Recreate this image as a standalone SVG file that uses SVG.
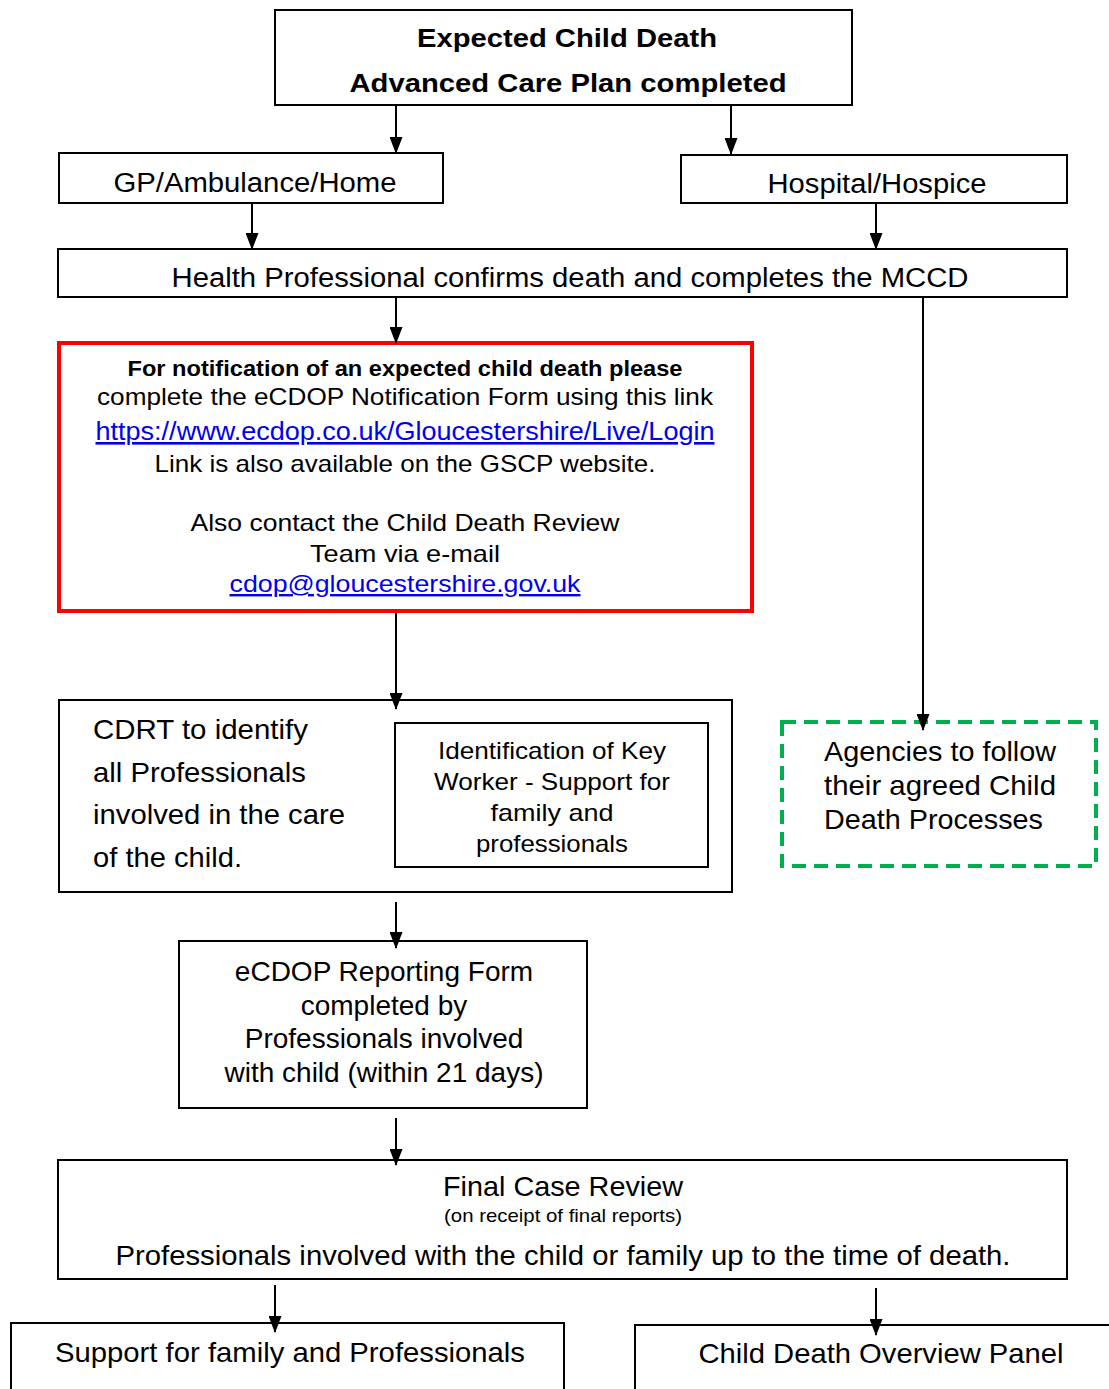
<svg xmlns="http://www.w3.org/2000/svg" width="1109" height="1389" viewBox="0 0 1109 1389">
<style>
.box{fill:#fff;stroke:#000;stroke-width:2}
.t{font-family:"Liberation Sans",Arial,sans-serif;fill:#000}
.c{text-anchor:middle}
.b{font-weight:bold}
.link{fill:#0000EE;text-decoration:underline}
.con{stroke:#000;stroke-width:2;fill:none}
</style>
<defs>
<marker id="a" markerWidth="17" markerHeight="13" refX="16" refY="6.5" orient="auto" markerUnits="userSpaceOnUse">
<path d="M0,0 L17,6.5 L0,13 Z" fill="#000"/>
</marker>
</defs>
<rect width="1109" height="1389" fill="#fff"/>

<g id="top">
<rect class="box" x="275" y="10" width="577" height="95"/>
<text class="t c b" x="567" y="47" font-size="26" textLength="300" lengthAdjust="spacingAndGlyphs">Expected Child Death</text>
<text class="t c b" x="568" y="92" font-size="26" textLength="437" lengthAdjust="spacingAndGlyphs">Advanced Care Plan completed</text>
</g>

<g id="gp">
<rect class="box" x="59" y="153" width="384" height="50"/>
<text class="t c" x="255" y="192" font-size="27" textLength="283" lengthAdjust="spacingAndGlyphs">GP/Ambulance/Home</text>
</g>

<g id="hospital">
<rect class="box" x="681" y="155" width="386" height="48"/>
<text class="t c" x="877" y="193" font-size="27" textLength="219" lengthAdjust="spacingAndGlyphs">Hospital/Hospice</text>
</g>

<g id="health">
<rect class="box" x="58" y="249" width="1009" height="48"/>
<text class="t c" x="570" y="287" font-size="27" textLength="797" lengthAdjust="spacingAndGlyphs">Health Professional confirms death and completes the MCCD</text>
</g>

<g id="notify">
<rect x="59" y="343" width="693" height="268" fill="#fff" stroke="#FF0000" stroke-width="4"/>
<text class="t c b" x="405" y="376" font-size="22" textLength="555" lengthAdjust="spacingAndGlyphs">For notification of an expected child death please</text>
<text class="t c" x="405" y="405" font-size="24" textLength="616" lengthAdjust="spacingAndGlyphs">complete the eCDOP Notification  Form using this link</text>
<text class="t c link" x="405" y="440" font-size="26" textLength="619" lengthAdjust="spacingAndGlyphs">https://www.ecdop.co.uk/Gloucestershire/Live/Login</text>
<text class="t c" x="405" y="472" font-size="24" textLength="501" lengthAdjust="spacingAndGlyphs">Link is also available on the GSCP website.</text>
<text class="t c" x="405" y="531" font-size="24" textLength="429" lengthAdjust="spacingAndGlyphs">Also contact the Child Death Review</text>
<text class="t c" x="405" y="562" font-size="24" textLength="190" lengthAdjust="spacingAndGlyphs">Team via e-mail</text>
<text class="t c link" x="405" y="592" font-size="24" textLength="351" lengthAdjust="spacingAndGlyphs">cdop@gloucestershire.gov.uk</text>
</g>

<g id="cdrt">
<rect class="box" x="59" y="700" width="673" height="192"/>
<text class="t" x="93" y="739" font-size="28" textLength="215" lengthAdjust="spacingAndGlyphs">CDRT to identify</text>
<text class="t" x="93" y="782" font-size="28" textLength="213" lengthAdjust="spacingAndGlyphs">all Professionals</text>
<text class="t" x="93" y="824" font-size="28" textLength="252" lengthAdjust="spacingAndGlyphs">involved in the care</text>
<text class="t" x="93" y="867" font-size="28" textLength="149" lengthAdjust="spacingAndGlyphs">of the child.</text>
</g>

<g id="keyworker">
<rect class="box" x="395" y="723" width="313" height="144"/>
<text class="t c" x="552" y="759" font-size="24" textLength="228" lengthAdjust="spacingAndGlyphs">Identification of Key</text>
<text class="t c" x="552" y="790" font-size="24" textLength="236" lengthAdjust="spacingAndGlyphs">Worker - Support for</text>
<text class="t c" x="552" y="821" font-size="24" textLength="123" lengthAdjust="spacingAndGlyphs">family and</text>
<text class="t c" x="552" y="852" font-size="24" textLength="152" lengthAdjust="spacingAndGlyphs">professionals</text>
</g>

<g id="agencies">
<rect x="782" y="722" width="314" height="144" fill="#fff" stroke="#00B050" stroke-width="4" stroke-dasharray="14,8"/>
<text class="t" x="824" y="761" font-size="28" textLength="232" lengthAdjust="spacingAndGlyphs">Agencies to follow</text>
<text class="t" x="824" y="795" font-size="28" textLength="232" lengthAdjust="spacingAndGlyphs">their agreed Child</text>
<text class="t" x="824" y="829" font-size="28" textLength="219" lengthAdjust="spacingAndGlyphs">Death Processes</text>
</g>

<g id="reporting">
<rect class="box" x="179" y="941" width="408" height="167"/>
<text class="t c" x="384" y="981" font-size="28">eCDOP Reporting Form</text>
<text class="t c" x="384" y="1015" font-size="28">completed by</text>
<text class="t c" x="384" y="1048" font-size="28">Professionals involved</text>
<text class="t c" x="384" y="1082" font-size="28">with child (within 21 days)</text>
</g>

<g id="final">
<rect class="box" x="58" y="1160" width="1009" height="119"/>
<text class="t c" x="563" y="1196" font-size="28" textLength="240" lengthAdjust="spacingAndGlyphs">Final Case Review</text>
<text class="t c" x="563" y="1222" font-size="19" textLength="238" lengthAdjust="spacingAndGlyphs">(on receipt of final reports)</text>
<text class="t c" x="563" y="1265" font-size="28" textLength="895" lengthAdjust="spacingAndGlyphs">Professionals involved with the child or family up to the time of death.</text>
</g>

<g id="support">
<rect class="box" x="11" y="1323" width="553" height="80"/>
<text class="t c" x="290" y="1362" font-size="28" textLength="470" lengthAdjust="spacingAndGlyphs">Support for family and Professionals</text>
</g>

<g id="cdop">
<rect class="box" x="635" y="1325" width="490" height="80"/>
<text class="t c" x="881" y="1363" font-size="28" textLength="365" lengthAdjust="spacingAndGlyphs">Child Death Overview Panel</text>
</g>

<g id="connectors">
<line class="con" x1="396" y1="105" x2="396" y2="153" marker-end="url(#a)"/>
<line class="con" x1="731" y1="105" x2="731" y2="154" marker-end="url(#a)"/>
<line class="con" x1="252" y1="203" x2="252" y2="249" marker-end="url(#a)"/>
<line class="con" x1="876" y1="203" x2="876" y2="249" marker-end="url(#a)"/>
<line class="con" x1="396" y1="297" x2="396" y2="343" marker-end="url(#a)"/>
<line class="con" x1="923" y1="297" x2="923" y2="730" marker-end="url(#a)"/>
<line class="con" x1="396" y1="613" x2="396" y2="709" marker-end="url(#a)"/>
<line class="con" x1="396" y1="902" x2="396" y2="948" marker-end="url(#a)"/>
<line class="con" x1="396" y1="1118" x2="396" y2="1165" marker-end="url(#a)"/>
<line class="con" x1="275" y1="1285" x2="275" y2="1332" marker-end="url(#a)"/>
<line class="con" x1="876" y1="1288" x2="876" y2="1335" marker-end="url(#a)"/>
</g>
</svg>
